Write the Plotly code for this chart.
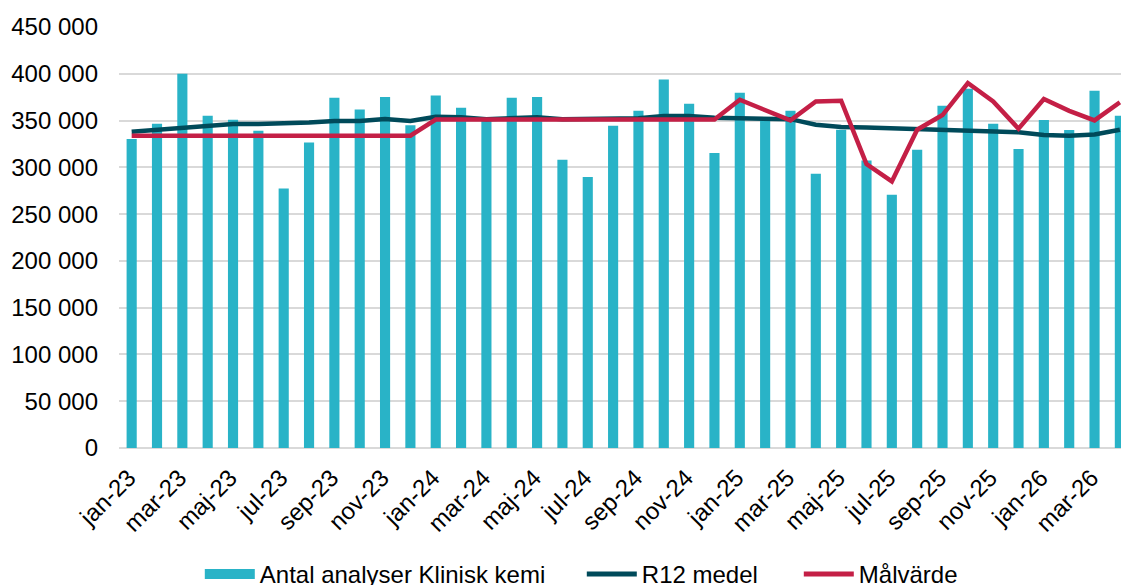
import plotly.graph_objects as go

months = ["jan", "feb", "mar", "apr", "maj", "jun", "jul", "aug", "sep", "okt", "nov", "dec"]
labels = [f"{m}-{y}" for y in ("23", "24", "25") for m in months] + ["jan-26", "feb-26", "mar-26", "apr-26"]

antal = [330200, 346600, 400000, 355100, 350800, 339100, 277400, 326600, 374300, 361900, 375100, 345000,
         376800, 363700, 350000, 374300, 375100, 308100, 289600, 344400, 360400, 393900, 367900, 315200,
         379700, 351000, 360400, 293200, 340200, 307400, 270700, 318800, 365800, 384000, 346600, 319500,
         350500, 339800, 381800, 355100]

r12 = [338000, 340000, 343000, 345200, 346300, 346300, 346600, 348000, 349500, 349500, 351600, 349500,
       354000, 353500, 351500, 352000, 353500, 351500, 352000, 353000, 352500, 355000, 355000, 353000,
       352500, 352000, 351500, 345500, 343000, 342600, 341600, 340200, 339500, 338800, 337400, 337400,
       334500, 333800, 335200, 340200]

malvarde = [333800] * 12 + [351000] * 12 + [372200, 360800, 350200, 370500, 371200, 303500, 285000, 340200,
                                             355900, 390100, 370500, 341300, 373000, 360400, 350200, 369400]

tick_labels = labels[::2]

BAR = "#29B3C7"
DARK = "#004A5A"
RED = "#C41F46"
FONT = "Liberation Sans, Arial, sans-serif"

fig = go.Figure()
fig.add_trace(go.Bar(x=labels, y=antal, marker=dict(color=BAR, line=dict(width=0)),
                     name="Antal analyser Klinisk kemi", showlegend=False))
fig.add_trace(go.Scatter(x=labels, y=r12, mode="lines", name="R12 medel",
                         line=dict(color=DARK, width=4.5), showlegend=False))
fig.add_trace(go.Scatter(x=labels, y=malvarde, mode="lines", name="Målvärde",
                         line=dict(color=RED, width=4.5), showlegend=False))
# legend-only entries
fig.add_trace(go.Scatter(x=[None], y=[None], mode="lines", name="Antal analyser Klinisk kemi",
                         line=dict(color=BAR, width=15), legendwidth=317))
fig.add_trace(go.Scatter(x=[None], y=[None], mode="lines", name="R12 medel",
                         line=dict(color=DARK, width=5), legendwidth=152))
fig.add_trace(go.Scatter(x=[None], y=[None], mode="lines", name="Målvärde",
                         line=dict(color=RED, width=5)))

fig.update_layout(
    width=1129, height=585,
    margin=dict(l=111, r=8, t=19, b=145, autoexpand=False),
    paper_bgcolor="white", plot_bgcolor="white",
    font=dict(family=FONT, size=24, color="#000000"),
    bargap=0.6,
    legend=dict(orientation="h", x=0.080, xanchor="left", y=-0.300, yanchor="middle",
                font=dict(size=24), itemwidth=50, tracegroupgap=0),
    xaxis=dict(type="category", range=[-0.5, 39.36], tickmode="array", tickvals=tick_labels,
               ticktext=tick_labels, tickangle=-45, showgrid=False, showline=False, ticks="",
               tickfont=dict(size=24), ticklabelstandoff=10, ticklabelshift=-3),
    yaxis=dict(range=[0, 450000], dtick=50000, tickformat=",d", showgrid=True,
               gridcolor="#D9D9D9", gridwidth=2, zeroline=True, zerolinecolor="#D9D9D9",
               zerolinewidth=2, showline=False, ticklabelstandoff=20, tickfont=dict(size=24)),
    separators=", ",
)

fig.write_html("out.html")
